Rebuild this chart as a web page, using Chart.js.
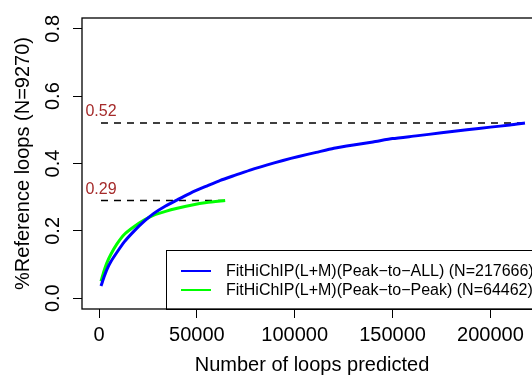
<!DOCTYPE html>
<html>
<head>
<meta charset="utf-8">
<script src="https://cdn.jsdelivr.net/npm/chart.js@4.4.1/dist/chart.umd.min.js"></script>
<style>
  body { margin: 0; overflow: hidden; background: #fff; }
  canvas { display: block; }
</style>
</head>
<body>
<canvas id="chart" width="542" height="376"></canvas>
<script>
// Peak-to-ALL curve
const allX = [1000, 2500, 4000, 6000, 9000, 13000, 18000, 23000, 28000, 34000, 40000, 47000, 55000, 62000, 70000, 78000, 86000, 94000, 102000, 111000, 120000, 130000, 140000, 150000, 162000, 175000, 188000, 200000, 210000, 217666];
const allY = [0.036, 0.062, 0.085, 0.108, 0.135, 0.168, 0.200, 0.228, 0.252, 0.274, 0.292, 0.313, 0.333, 0.350, 0.366, 0.382, 0.396, 0.409, 0.421, 0.433, 0.445, 0.455, 0.464, 0.474, 0.482, 0.491, 0.500, 0.508, 0.514, 0.520];
// Peak-to-Peak curve
const peakX = [1000, 2500, 4000, 6000, 9000, 13000, 18000, 23000, 28000, 34000, 40000, 47000, 55000, 64462];
const peakY = [0.050, 0.080, 0.105, 0.130, 0.160, 0.190, 0.213, 0.232, 0.247, 0.258, 0.267, 0.276, 0.284, 0.290];

const seriesNames = ["FitHiChIP(L+M)(Peak\u2212to\u2212ALL) (N=217666)", "FitHiChIP(L+M)(Peak\u2212to\u2212Peak) (N=64462)"];
const seriesColors = ["#0000ff", "#00ff00"];

// dashed reference levels
const refLevels = [0.52, 0.29];
const refEnds = [217666, 64462];
const refStart = 1000;

const xTicks = [0, 50000, 100000, 150000, 200000];
const yTicks = [0, 0.2, 0.4, 0.6, 0.8];

const FONT = "'Liberation Sans', Arial, Helvetica, sans-serif";

function pts(xs, ys) {
  return xs.map((x, i) => ({ x: x, y: ys[i] }));
}

const extras = {
  id: "extras",
  afterDatasetsDraw(chart) {
    const ctx = chart.ctx;
    const a = chart.chartArea;
    const xs = chart.scales.x;
    const ys = chart.scales.y;
    ctx.save();

    // labels of the reference levels
    ctx.fillStyle = "#a52a2a";
    ctx.font = "16px " + FONT;
    ctx.textAlign = "center";
    ctx.textBaseline = "alphabetic";
    refLevels.forEach(v => {
      ctx.fillText(v.toFixed(2), xs.getPixelForValue(refStart), ys.getPixelForValue(v) - 7);
    });

    // legend, bottom right inside the plot
    const lx = a.left + 84;
    const ly = a.bottom - 59;
    ctx.fillStyle = "#fff";
    ctx.fillRect(lx, ly, a.right - lx, a.bottom - ly);
    ctx.strokeStyle = "#000";
    ctx.lineWidth = 1;
    ctx.strokeRect(lx + 0.5, ly + 0.5, a.right - lx, a.bottom - ly);
    ctx.font = "16px " + FONT;
    ctx.textAlign = "left";
    ctx.textBaseline = "middle";
    seriesNames.forEach((name, i) => {
      const yy = ly + 21 + i * 19;
      ctx.strokeStyle = seriesColors[i];
      ctx.lineWidth = 2;
      ctx.beginPath();
      ctx.moveTo(lx + 15, yy);
      ctx.lineTo(lx + 45, yy);
      ctx.stroke();
      ctx.fillStyle = "#000";
      ctx.fillText(name, lx + 60, yy + 1);
    });

    // plot box
    ctx.strokeStyle = "#000";
    ctx.lineWidth = 1.3;
    ctx.strokeRect(a.left, a.top, a.width, a.height);
    ctx.restore();
  }
};

new Chart(document.getElementById("chart"), {
  type: "scatter",
  data: {
    datasets: [
      {
        label: seriesNames[0],
        data: pts(allX, allY),
        showLine: true,
        borderColor: seriesColors[0],
        borderWidth: 3,
        pointRadius: 0,
        tension: 0.2
      },
      {
        label: seriesNames[1],
        data: pts(peakX, peakY),
        showLine: true,
        borderColor: seriesColors[1],
        borderWidth: 3,
        pointRadius: 0,
        tension: 0.2
      },
      {
        label: "ref1",
        data: [{ x: refStart, y: refLevels[0] }, { x: refEnds[0], y: refLevels[0] }],
        showLine: true,
        borderColor: "#000",
        borderWidth: 1.5,
        borderDash: [7, 6],
        pointRadius: 0
      },
      {
        label: "ref2",
        data: [{ x: refStart, y: refLevels[1] }, { x: refEnds[1], y: refLevels[1] }],
        showLine: true,
        borderColor: "#000",
        borderWidth: 1.5,
        borderDash: [7, 6],
        pointRadius: 0
      }
    ]
  },
  options: {
    responsive: false,
    animation: false,
    layout: { padding: { top: 15, left: 0, right: 0, bottom: 0 } },
    plugins: { legend: { display: false }, tooltip: { enabled: false } },
    scales: {
      x: {
        type: "linear",
        min: -8707,
        max: 226373,
        afterBuildTicks: s => { s.ticks = xTicks.map(v => ({ value: v })); },
        afterFit: s => { s.height = 67; },
        ticks: {
          autoSkip: false,
          maxRotation: 0,
          padding: 5,
          color: "#000",
          font: { family: FONT, size: 20 },
          callback: v => String(v)
        },
        grid: { drawOnChartArea: false, tickLength: 9, color: "#000" },
        border: { display: false },
        title: {
          display: true,
          text: "Number of loops predicted",
          color: "#000",
          font: { family: FONT, size: 20 },
          padding: { top: 0, bottom: -1 }
        }
      },
      y: {
        type: "linear",
        min: -0.032,
        max: 0.832,
        afterBuildTicks: s => { s.ticks = yTicks.map(v => ({ value: v })); },
        afterFit: s => { s.width = 82; },
        ticks: {
          minRotation: 90,
          maxRotation: 90,
          crossAlign: "center",
          padding: 6,
          color: "#000",
          font: { family: FONT, size: 20 },
          callback: v => v.toFixed(1)
        },
        grid: { drawOnChartArea: false, tickLength: 9, color: "#000" },
        border: { display: false },
        title: {
          display: true,
          text: "%Reference loops (N=9270)",
          color: "#000",
          font: { family: FONT, size: 20 },
          padding: { top: 11, bottom: 0 }
        }
      }
    }
  },
  plugins: [extras]
});
</script>
</body>
</html>
